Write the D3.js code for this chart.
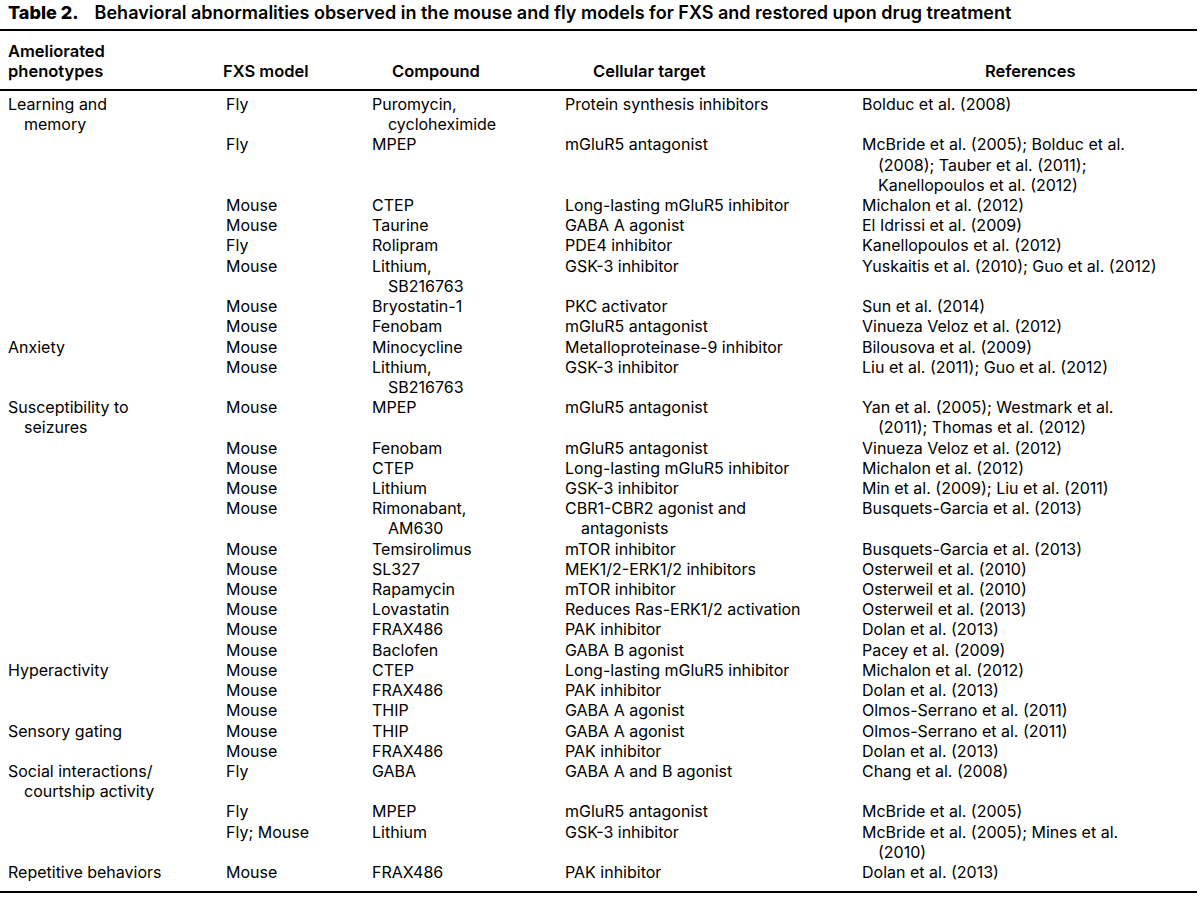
<!DOCTYPE html>
<html>
<head>
<meta charset="utf-8">
<script src="https://cdn.jsdelivr.net/npm/d3@7"></script>
<style>
  body { margin: 0; background: #fff; }
  svg text { font-family: Inter, "Open Sans", sans-serif; fill: #000; }
  .title { font-size: 18px; font-weight: 600; }
  .head { font-size: 16.5px; font-weight: 600; }
  .cell { font-size: 16px; }
</style>
</head>
<body>
<script>
// table content; "\n" marks where the original wraps a cell
const titleLabel = "Table 2.";
const titleText = "Behavioral abnormalities observed in the mouse and fly models for FXS and restored upon drug treatment";
const headers = ["Ameliorated\nphenotypes", "FXS model", "Compound", "Cellular target", "References"];

const phenotypes = ["Learning and\nmemory", "", "", "", "", "", "", "",
  "Anxiety", "",
  "Susceptibility to\nseizures", "", "", "", "", "", "", "", "", "", "",
  "Hyperactivity", "", "",
  "Sensory gating", "",
  "Social interactions/\ncourtship activity", "", "",
  "Repetitive behaviors"];

const models = ["Fly", "Fly", "Mouse", "Mouse", "Fly", "Mouse", "Mouse", "Mouse",
  "Mouse", "Mouse",
  "Mouse", "Mouse", "Mouse", "Mouse", "Mouse", "Mouse", "Mouse", "Mouse", "Mouse", "Mouse", "Mouse",
  "Mouse", "Mouse", "Mouse",
  "Mouse", "Mouse",
  "Fly", "Fly", "Fly; Mouse",
  "Mouse"];

const compounds = ["Puromycin,\ncycloheximide", "MPEP", "CTEP", "Taurine", "Rolipram", "Lithium,\nSB216763", "Bryostatin-1", "Fenobam",
  "Minocycline", "Lithium,\nSB216763",
  "MPEP", "Fenobam", "CTEP", "Lithium", "Rimonabant,\nAM630", "Temsirolimus", "SL327", "Rapamycin", "Lovastatin", "FRAX486", "Baclofen",
  "CTEP", "FRAX486", "THIP",
  "THIP", "FRAX486",
  "GABA", "MPEP", "Lithium",
  "FRAX486"];

const targets = ["Protein synthesis inhibitors", "mGluR5 antagonist", "Long-lasting mGluR5 inhibitor", "GABA A agonist",
  "PDE4 inhibitor", "GSK-3 inhibitor", "PKC activator", "mGluR5 antagonist",
  "Metalloproteinase-9 inhibitor", "GSK-3 inhibitor",
  "mGluR5 antagonist", "mGluR5 antagonist", "Long-lasting mGluR5 inhibitor", "GSK-3 inhibitor",
  "CBR1-CBR2 agonist and\nantagonists", "mTOR inhibitor", "MEK1/2-ERK1/2 inhibitors", "mTOR inhibitor",
  "Reduces Ras-ERK1/2 activation", "PAK inhibitor", "GABA B agonist",
  "Long-lasting mGluR5 inhibitor", "PAK inhibitor", "GABA A agonist",
  "GABA A agonist", "PAK inhibitor",
  "GABA A and B agonist", "mGluR5 antagonist", "GSK-3 inhibitor",
  "PAK inhibitor"];

const references = ["Bolduc et al. (2008)",
  "McBride et al. (2005); Bolduc et al.\n(2008); Tauber et al. (2011);\nKanellopoulos et al. (2012)",
  "Michalon et al. (2012)", "El Idrissi et al. (2009)", "Kanellopoulos et al. (2012)",
  "Yuskaitis et al. (2010); Guo et al. (2012)", "Sun et al. (2014)", "Vinueza Veloz et al. (2012)",
  "Bilousova et al. (2009)", "Liu et al. (2011); Guo et al. (2012)",
  "Yan et al. (2005); Westmark et al.\n(2011); Thomas et al. (2012)", "Vinueza Veloz et al. (2012)",
  "Michalon et al. (2012)", "Min et al. (2009); Liu et al. (2011)", "Busquets-Garcia et al. (2013)",
  "Busquets-Garcia et al. (2013)", "Osterweil et al. (2010)", "Osterweil et al. (2010)",
  "Osterweil et al. (2013)", "Dolan et al. (2013)", "Pacey et al. (2009)",
  "Michalon et al. (2012)", "Dolan et al. (2013)", "Olmos-Serrano et al. (2011)",
  "Olmos-Serrano et al. (2011)", "Dolan et al. (2013)",
  "Chang et al. (2008)", "McBride et al. (2005)", "McBride et al. (2005); Mines et al.\n(2010)",
  "Dolan et al. (2013)"];

const w = 1200, h = 903;
const indent = 16;

const svg = d3.select("body").append("svg")
  .attr("width", w)
  .attr("height", h);

const rows = phenotypes.map((p, i) => [p, models[i], compounds[i], targets[i], references[i]]);

// each row is as tall as its tallest cell
let lineCount = 0;
const rowStart = rows.map(r => {
  const start = lineCount;
  lineCount += d3.max(r, c => c.split("\n").length);
  return start;
});

const colX = d3.scaleOrdinal().domain(d3.range(5)).range([8, 226, 372, 565, 862]);
const headX = d3.scaleOrdinal().domain(d3.range(5)).range([8, 223, 392, 593, 985]);
const lineY = d3.scaleLinear().domain([0, lineCount - 1]).range([110, 878]);

// title
const title = svg.append("text").attr("class", "title").attr("x", 8).attr("y", 19);
title.append("tspan").style("font-weight", 800).text(titleLabel);
title.append("tspan").attr("dx", 16).text(titleText);

// rules
const rules = [{y: 30, s: 2}, {y: 90, s: 1.8}, {y: 892, s: 2}];
svg.selectAll("line.rule")
  .data(rules)
  .enter()
  .append("line")
  .attr("class", "rule")
  .attr("x1", 0)
  .attr("x2", 1197)
  .attr("y1", d => d.y)
  .attr("y2", d => d.y)
  .attr("stroke", "#000")
  .attr("stroke-width", d => d.s);

// header
headers.forEach((hd, i) => {
  const parts = hd.split("\n");
  parts.forEach((t, k) => {
    svg.append("text")
      .attr("class", "head")
      .attr("x", headX(i))
      .attr("y", 77 - (parts.length - 1 - k) * 20)
      .text(t);
  });
});

// body cells
const cells = [];
rows.forEach((r, ri) => {
  r.forEach((c, ci) => {
    if (c === "") return;
    c.split("\n").forEach((t, k) => {
      cells.push({text: t, col: ci, line: rowStart[ri] + k, cont: k > 0});
    });
  });
});

svg.selectAll("text.cell")
  .data(cells)
  .enter()
  .append("text")
  .attr("class", "cell")
  .attr("x", d => colX(d.col) + (d.cont ? indent : 0))
  .attr("y", d => lineY(d.line))
  .text(d => d.text);
</script>
</body>
</html>
